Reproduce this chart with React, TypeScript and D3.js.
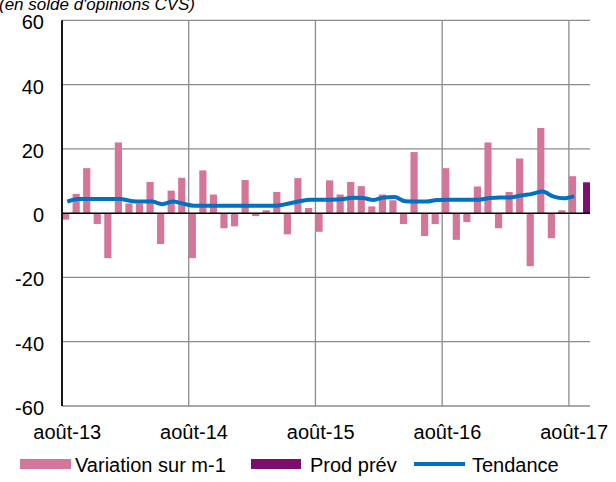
import * as d3 from "d3";

// monthly categories, août-13 .. sept-17
const months = [
  "août-13", "sept-13", "oct-13", "nov-13", "déc-13", "janv-14", "févr-14", "mars-14", "avr-14", "mai-14", "juin-14", "juil-14",
  "août-14", "sept-14", "oct-14", "nov-14", "déc-14", "janv-15", "févr-15", "mars-15", "avr-15", "mai-15", "juin-15", "juil-15",
  "août-15", "sept-15", "oct-15", "nov-15", "déc-15", "janv-16", "févr-16", "mars-16", "avr-16", "mai-16", "juin-16", "juil-16",
  "août-16", "sept-16", "oct-16", "nov-16", "déc-16", "janv-17", "févr-17", "mars-17", "avr-17", "mai-17", "juin-17", "juil-17",
  "août-17", "sept-17",
];

// Variation sur m-1 (août-13 .. août-17)
const variation = [
  -2, 6, 14, -3.4, -14, 22, 3, 3, 9.7, -9.6, 7, 11,
  -14, 13.3, 5.8, -4.7, -4.1, 10.3, -0.9, 0.9, 6.6, -6.6, 10.9, 1.6,
  -5.8, 10.2, 5.8, 9.7, 8.4, 2.1, 5.8, 4, -3.4, 19, -7.1, -3.4,
  14, -8.3, -2.8, 8.3, 22, -4.7, 6.6, 17, -16.5, 26.5, -7.8, 0.9,
  11.5,
];

// Tendance (août-13 .. août-17)
const tendance = [
  3.6, 4.4, 4.4, 4.4, 4.4, 4.4, 3.8, 3.6, 3.6, 2.8, 3.6, 2.9,
  2.3, 2.3, 2.3, 2.3, 2.3, 2.3, 2.3, 2.3, 2.4, 3.0, 3.7, 4.2,
  4.2, 4.2, 4.3, 4.8, 4.7, 4.1, 4.9, 5.0, 3.7, 3.6, 3.6, 4.1,
  4.2, 4.2, 4.2, 4.2, 4.7, 4.9, 4.9, 5.5, 6.0, 6.7, 5.2, 4.6,
  5.3,
];

// Prod prév
const prodPrevMonths = ["sept-17"];
const prodPrevValues = [9.6];

const yTicks = [-60, -40, -20, 0, 20, 40, 60];
const xTickLabels = ["août-13", "août-14", "août-15", "août-16", "août-17"];

const PINK = "#D4759A";
const PURPLE = "#7D0E70";
const BLUE = "#0070C0";
const FONT = "'Liberation Sans', Arial, sans-serif";

export default function App() {
  const width = 616;
  const height = 482;
  const left = 62;
  const right = 590;

  const x = d3.scaleBand<string>().domain(months).range([left, right]).padding(0);
  const y = d3.scaleLinear().domain([-60, 60]).range([406, 20.3]);
  const bw = x.bandwidth();

  const line = d3
    .line<number>()
    .x((_, i) => (x(months[i]) as number) + bw / 2)
    .y((d) => y(d))
    .curve(d3.curveMonotoneX);

  return (
    <svg
      width={width}
      height={height}
      style={{ position: "absolute", left: 0, top: 0, background: "#fff" }}
      fontFamily={FONT}
    >
      <text x={-1} y={10} fontSize={17} fontStyle="italic" fill="#000">
        (en solde d'opinions CVS)
      </text>

      {/* horizontal gridlines */}
      {yTicks.filter((t) => t !== 0).map((t) => (
        <line key={t} x1={left} x2={right} y1={y(t)} y2={y(t)} stroke="#8c8c8c" strokeWidth={1.3} />
      ))}
      {/* vertical gridlines every 12 months */}
      {xTickLabels.slice(1).map((m) => (
        <line key={m} x1={x(m)} x2={x(m)} y1={y(60)} y2={y(-60)} stroke="#8c8c8c" strokeWidth={1.3} />
      ))}

      {/* bars */}
      {variation.map((v, i) => (
        <rect
          key={i}
          x={x(months[i]) as number}
          width={bw * 0.68}
          y={Math.min(y(v), y(0))}
          height={Math.abs(y(v) - y(0))}
          fill={PINK}
        />
      ))}
      {prodPrevValues.map((v, i) => (
        <rect
          key={"p" + i}
          x={(x(prodPrevMonths[i]) as number) + bw * 0.34}
          width={bw * 0.66}
          y={Math.min(y(v), y(0))}
          height={Math.abs(y(v) - y(0))}
          fill={PURPLE}
        />
      ))}

      {/* axes */}
      <line x1={left} x2={right} y1={y(0)} y2={y(0)} stroke="#000" strokeWidth={1.5} />
      <line x1={left} x2={left} y1={y(60)} y2={y(-60)} stroke="#000" strokeWidth={1.8} />

      <path d={line(tendance) ?? ""} fill="none" stroke={BLUE} strokeWidth={4} strokeLinejoin="round" />

      {/* y tick labels */}
      {yTicks.map((t) => (
        <text key={t} x={44} y={y(t) + 9} textAnchor="end" fontSize={20} fill="#000">
          {t}
        </text>
      ))}

      {/* x tick labels */}
      {xTickLabels.map((m) => (
        <text key={m} x={(x(m) as number) + bw / 2} y={439} textAnchor="middle" fontSize={20} fill="#000">
          {m}
        </text>
      ))}

      {/* legend */}
      <g fontSize={20} fill="#000">
        <rect x={20} y={459} width={51} height={10} fill={PINK} />
        <text x={75} y={472}>Variation sur m-1</text>
        <rect x={251} y={459} width={50} height={10} fill={PURPLE} />
        <text x={310} y={472}>Prod prév</text>
        <line x1={414} x2={465} y1={464} y2={464} stroke={BLUE} strokeWidth={4} />
        <text x={472} y={472}>Tendance</text>
      </g>
    </svg>
  );
}
